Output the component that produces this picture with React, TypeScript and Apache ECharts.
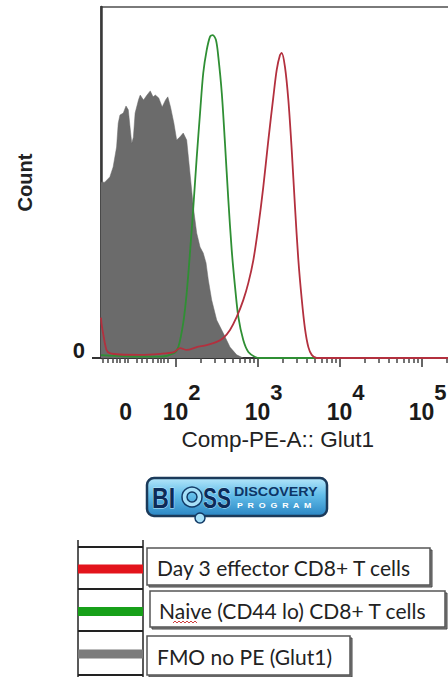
import React, { useEffect, useRef } from 'react';
import * as echarts from 'echarts';

// Display axis in decade units of the biexponential scale (10^k at k)
const X_MIN = 1.09;
const X_MAX = 5.4;
const ZERO_POS = 1.383; // display position of value 0
const DECADES = [2, 3, 4, 5];
const LOW_TICKS = [1.111, 1.173, 1.235, 1.284, 1.321, 1.383, 1.42, 1.531, 1.593, 1.654, 1.716, 1.778, 1.815, 1.852, 1.901];
const LOG_TICK_VALUES = [
  200, 300, 400, 500, 600, 700, 800, 900,
  2000, 3000, 4000, 5000, 6000, 7000, 8000, 9000,
  20000, 30000, 40000, 50000, 60000, 70000, 80000, 90000,
  200000,
];
const X_LABEL_VALUES = [ZERO_POS, 2, 3, 4, 5];
const X_TITLE = 'Comp-PE-A:: Glut1';
const Y_TITLE = 'Count';

// FMO no PE (Glut1) – gray filled histogram
const FMO_X = [1.09, 1.136, 1.198, 1.238, 1.28, 1.3, 1.321, 1.362, 1.395, 1.423, 1.444, 1.465, 1.485, 1.506, 1.547, 1.568, 1.609, 1.651, 1.691, 1.725, 1.753, 1.794, 1.836, 1.877, 1.905, 1.938, 1.979, 2.013, 2.054, 2.093, 2.135, 2.175, 2.216, 2.257, 2.298, 2.337, 2.371, 2.399, 2.44, 2.501, 2.581, 2.663, 2.745, 2.825];
const FMO_Y = [50.1, 50.1, 51.6, 54.4, 60.1, 66.9, 69.2, 69.8, 71.8, 70.7, 65.8, 61.2, 62.9, 69.8, 73.5, 74.9, 73.5, 74.9, 76.1, 74.4, 74.9, 74.1, 71.5, 73.5, 74.4, 71.5, 66.9, 62.1, 63.0, 64.1, 62.1, 52.7, 43.0, 35.6, 31.6, 29.9, 27.1, 22.2, 16.5, 10.8, 7.1, 3.1, 0.9, 0];

// Naive (CD44 lo) CD8+ T cells – green line
const NAIVE_X = [1.09, 1.4, 1.815, 1.979, 2.033, 2.093, 2.135, 2.175, 2.216, 2.257, 2.298, 2.337, 2.379, 2.419, 2.452, 2.492, 2.521, 2.563, 2.602, 2.643, 2.684, 2.725, 2.765, 2.825, 2.887, 2.969, 3.029, 5.4];
const NAIVE_Y = [0.8, 0.5, 0.4, 1.4, 3.1, 10.0, 18.5, 29.9, 43.0, 57.0, 69.8, 81.2, 87.7, 91.5, 92.0, 90.6, 85.8, 75.5, 61.2, 45.0, 30.8, 20.2, 11.7, 5.1, 1.7, 0.3, 0, 0];

// Day 3 effector CD8+ T cells – red line
const EFF_X = [1.09, 1.095, 1.115, 1.157, 1.198, 1.321, 1.568, 1.815, 1.979, 2.054, 2.135, 2.257, 2.379, 2.501, 2.581, 2.663, 2.745, 2.825, 2.887, 2.948, 3.008, 3.069, 3.131, 3.192, 3.233, 3.273, 3.294, 3.334, 3.375, 3.416, 3.456, 3.496, 3.538, 3.578, 3.619, 3.66, 3.72, 5.4];
const EFF_Y = [11.5, 10.0, 7.1, 2.3, 1.4, 1.0, 0.9, 1.2, 1.7, 2.8, 2.3, 3.1, 3.7, 4.6, 5.7, 8.0, 11.7, 16.5, 21.4, 27.9, 37.3, 48.7, 62.1, 74.4, 82.1, 86.3, 86.9, 82.9, 73.5, 59.3, 43.0, 28.2, 16.8, 8.3, 3.1, 0.9, 0, 0];

const LEGEND_LABELS = ['Day 3 effector CD8+ T cells', 'Naive (CD44 lo) CD8+ T cells', 'FMO no PE (Glut1)'];
const LEGEND_COLORS = ['#e3141c', '#17a019', '#7b7b7b'];

const zip = (xs: number[], ys: number[]) => xs.map((x, i) => [x, ys[i]]);

const CHART_W = 470;
const CHART_H = 677;

export default function App() {
  const ref = useRef<HTMLDivElement>(null);
  useEffect(() => {
    if (!ref.current) return;
    const chart = echarts.init(ref.current, null, { renderer: 'svg' });
    const font = 'Liberation Sans, Arial, sans-serif';
    const legFont = 'Lato, Open Sans, sans-serif';

    const boxes = [
      { x: 147, y: 548, w: 283, h: 37, tx: 157, ty: 567 },
      { x: 150, y: 591, w: 295, h: 36, tx: 159, ty: 610 },
      { x: 147, y: 636, w: 203, h: 39, tx: 157, ty: 656 },
    ];
    const barY = [569, 611.5, 654];

    const graphics: any[] = [];
    // logo
    graphics.push({
      type: 'rect', shape: { x: 147, y: 478, width: 180, height: 38, r: 7 },
      style: {
        fill: new echarts.graphic.LinearGradient(0, 0, 0, 1, [
          { offset: 0, color: '#b4e6fa' }, { offset: 0.45, color: '#62bde9' }, { offset: 1, color: '#2b86c4' },
        ]),
        stroke: '#1b3a5a', lineWidth: 2.5,
      },
    });
    graphics.push({ type: 'text', x: 152, y: 498, scaleX: 0.8, style: { text: 'BI', font: 'bold 29px ' + font, fill: '#0c2a58', verticalAlign: 'middle', stroke: '#bfe9fb', lineWidth: 1 } });
    graphics.push({ type: 'ring', shape: { cx: 192, cy: 497, r: 10, r0: 5 }, style: { fill: '#a6e0f8', stroke: '#123a66', lineWidth: 1.5 } });
    graphics.push({ type: 'circle', shape: { cx: 200, cy: 518, r: 5 }, style: { fill: '#a6e0f8', stroke: '#123a66', lineWidth: 1.5 } });
    graphics.push({ type: 'text', x: 203, y: 498, scaleX: 0.72, style: { text: 'SS', font: 'bold 29px ' + font, fill: '#0c2a58', verticalAlign: 'middle', stroke: '#bfe9fb', lineWidth: 1 } });
    graphics.push({ type: 'text', x: 234, y: 492, scaleX: 1.1, style: { text: 'DISCOVERY', font: 'bold 13px ' + font, fill: '#0d3566', verticalAlign: 'middle' } });
    graphics.push({ type: 'text', x: 237, y: 505, scaleX: 1.1, style: { text: 'P  R  O  G  R  A  M', font: 'bold 8px ' + font, fill: '#ffffff', verticalAlign: 'middle' } });

    // legend swatch column
    graphics.push({ type: 'line', shape: { x1: 78, y1: 540, x2: 78, y2: 677 }, style: { stroke: '#222', lineWidth: 1.5 } });
    graphics.push({ type: 'line', shape: { x1: 143, y1: 540, x2: 143, y2: 677 }, style: { stroke: '#222', lineWidth: 1.5 } });
    [547, 589, 631, 675].forEach((y) => {
      graphics.push({ type: 'line', shape: { x1: 78, y1: y, x2: 143, y2: y }, style: { stroke: '#222', lineWidth: 2 } });
    });
    LEGEND_COLORS.forEach((c, i) => {
      graphics.push({ type: 'rect', shape: { x: 78, y: barY[i] - 4.5, width: 65, height: 9 }, style: { fill: c } });
    });
    boxes.forEach((b, i) => {
      graphics.push({ type: 'rect', shape: { x: b.x + 2, y: b.y + 2, width: b.w, height: b.h }, style: { fill: '#888', stroke: '#444', lineWidth: 1 } });
      graphics.push({ type: 'rect', shape: { x: b.x, y: b.y, width: b.w, height: b.h }, style: { fill: '#fff', stroke: '#555', lineWidth: 1.5 } });
      graphics.push({ type: 'text', x: b.tx, y: b.ty, style: { text: LEGEND_LABELS[i], font: '21px ' + legFont, fill: '#222', verticalAlign: 'middle' } });
    });
    // spell-check squiggle under "ive"
    graphics.push({
      type: 'polyline',
      shape: { points: [[173, 623], [175, 621], [177, 623], [179, 621], [181, 623], [183, 621], [185, 623], [187, 621], [189, 623], [191, 621], [193, 623], [195, 621], [197, 623]] },
      style: { stroke: '#d04040', lineWidth: 1, fill: 'none' },
    });

    const labelRich = {
      p: { width: 12, height: 42, lineHeight: 42 },
      q: { width: 1, height: 42, lineHeight: 42 },
      b: { fontSize: 23, fontWeight: 'bold', fontFamily: font, color: '#1a1a1a', lineHeight: 23, verticalAlign: 'bottom' },
      z: { fontSize: 23, fontWeight: 'bold', fontFamily: font, color: '#1a1a1a', lineHeight: 23, verticalAlign: 'bottom' },
      s: { fontSize: 22, fontWeight: 'bold', fontFamily: font, color: '#1a1a1a', lineHeight: 22, verticalAlign: 'top' },
    };

    chart.setOption({
      animation: false,
      backgroundColor: '#ffffff',
      grid: {
        left: 101, top: 7, right: CHART_W - 454.4, bottom: 319,
        show: true, borderColor: '#7a7a7a', borderWidth: 2, backgroundColor: 'transparent',
      },
      xAxis: [
        {
          type: 'value', min: X_MIN, max: X_MAX, position: 'bottom',
          name: X_TITLE, nameLocation: 'middle', nameGap: 65,
          nameTextStyle: { fontSize: 22.5, fontFamily: font, color: '#222', verticalAlign: 'top', lineHeight: 24 },
          axisLine: { show: true, onZero: false, lineStyle: { color: '#333', width: 2 } },
          axisTick: { show: true, customValues: LOW_TICKS.concat(LOG_TICK_VALUES.map((v) => Math.log10(v))), length: 5, lineStyle: { color: '#444', width: 1.5 } },
          axisLabel: {
            show: true, customValues: X_LABEL_VALUES, margin: 23, rich: labelRich,
            formatter: (v: number) => (Math.abs(v - ZERO_POS) < 1e-6 ? '{q|}{z|0}' : `{p|}{b|10}{s|${Math.round(v)}}`),
          },
          splitLine: { show: false },
        },
        {
          type: 'value', min: X_MIN, max: X_MAX, position: 'bottom',
          axisLine: { show: false },
          axisTick: { show: true, customValues: DECADES, length: 9, lineStyle: { color: '#333', width: 1.5 } },
          axisLabel: { show: false },
          splitLine: { show: false },
        },
      ],
      yAxis: {
        type: 'value', min: 0, max: 100,
        name: Y_TITLE, nameLocation: 'middle', nameGap: 66, nameRotate: 90,
        nameTextStyle: { fontSize: 20, fontWeight: 'bold', fontFamily: font, color: '#222' },
        axisLine: { show: true, lineStyle: { color: '#3a3a3a', width: 2.5 } },
        axisTick: { show: true, customValues: [0], length: 9, lineStyle: { color: '#333', width: 2 } },
        axisLabel: {
          show: true, customValues: [0], margin: 16, formatter: () => '0',
          fontSize: 22, fontWeight: 'bold', fontFamily: font, color: '#1a1a1a', verticalAlign: 'bottom', lineHeight: 16,
        },
        splitLine: { show: false },
      },
      series: [
        {
          name: 'FMO no PE (Glut1)', type: 'line', data: zip(FMO_X, FMO_Y), symbol: 'none',
          lineStyle: { width: 0.5, color: '#6b6b6b' }, areaStyle: { color: '#6b6b6b', opacity: 1 }, z: 2,
        },
        {
          name: 'Naive (CD44 lo) CD8+ T cells', type: 'line', data: zip(NAIVE_X, NAIVE_Y), symbol: 'none', smooth: 0.3,
          lineStyle: { width: 1.8, color: '#2f8f34' }, z: 3,
        },
        {
          name: 'Day 3 effector CD8+ T cells', type: 'line', data: zip(EFF_X, EFF_Y), symbol: 'none', smooth: 0.3,
          lineStyle: { width: 1.8, color: '#b3303e' }, z: 4,
        },
      ],
      graphic: graphics,
    });
    return () => chart.dispose();
  }, []);
  return (
    <div style={{ position: 'absolute', left: 0, top: 0, width: 448, height: CHART_H, overflow: 'hidden' }}>
      <div ref={ref} style={{ width: CHART_W, height: CHART_H }} />
    </div>
  );
}
